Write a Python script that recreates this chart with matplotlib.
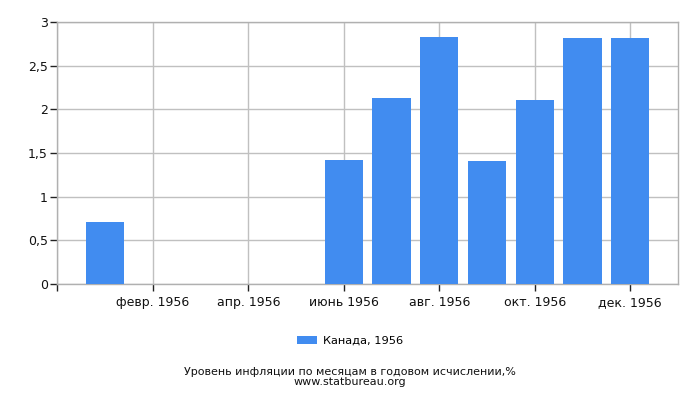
import numpy as np
import matplotlib
matplotlib.use('Agg')
import matplotlib.pyplot as plt
from matplotlib.patches import Patch

# monthly inflation, Canada 1956 (Jan..Dec)
months = ['янв. 1956', 'февр. 1956', 'март 1956', 'апр. 1956', 'май 1956', 'июнь 1956',
          'июль 1956', 'авг. 1956', 'сент. 1956', 'окт. 1956', 'нояб. 1956', 'дек. 1956']
values = [0.71, 0, 0, 0, 0, 1.42, 2.13, 2.83, 1.41, 2.11, 2.82, 2.82]
y_ticks = [0, 0.5, 1, 1.5, 2, 2.5, 3]
y_labels = ['0', '0,5', '1', '1,5', '2', '2,5', '3']
series_name = 'Канада, 1956'
caption = 'Уровень инфляции по месяцам в годовом исчислении,%'
source = 'www.statbureau.org'

bar_color = '#418cf0'
grid_color = '#c0c0c0'

plt.rcParams['font.family'] = ['DejaVu Sans']
fig = plt.figure(figsize=(7, 4), dpi=100)
ax = fig.add_axes([0.082, 0.291, 0.8866, 0.653])

x = np.arange(len(months))
ax.bar(x, values, width=0.8, color=bar_color, zorder=3)

ax.set_xlim(-1, 12)
ax.set_ylim(0, 3)
xt = [-1] + list(x[1::2])
ax.set_xticks(xt)
ax.set_xticklabels([''] + months[1::2], fontsize=9, color='#111111')
ax.set_yticks(y_ticks)
ax.set_yticklabels(y_labels, fontsize=9, color='#111111')
ax.tick_params(axis='both', length=5, width=1, color='#222222', pad=2)
ax.tick_params(axis='x', pad=4)

ax.grid(True, color=grid_color, linewidth=1, zorder=0)
for side in ['top', 'right', 'left', 'bottom']:
    ax.spines[side].set_color('#b0b0b0')
    ax.spines[side].set_linewidth(1)

handles = [Patch(facecolor=bar_color, label=series_name)]
fig.legend(handles=handles, loc='center', bbox_to_anchor=(0.5, 0.148), frameon=False,
           fontsize=8.2, handlelength=1.8, handleheight=0.7, handletextpad=0.5)

fig.text(0.5, 0.07, caption, ha='center', va='center', fontsize=8, color='#111111')
fig.text(0.5, 0.045, source, ha='center', va='center', fontsize=8, color='#111111')

fig.savefig('out.png', dpi=100)
